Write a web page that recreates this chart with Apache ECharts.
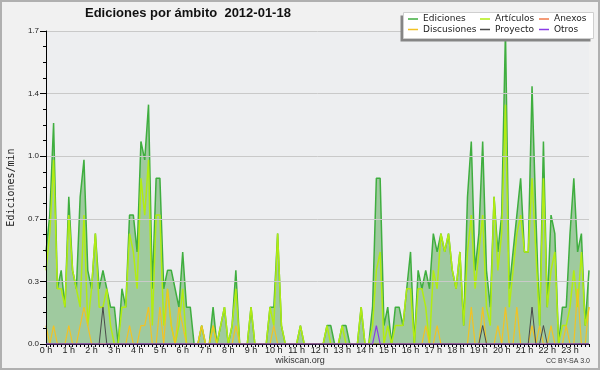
<!DOCTYPE html>
<html><head><meta charset="utf-8">
<script src="https://cdn.jsdelivr.net/npm/echarts@6/dist/echarts.min.js"></script>
<style>html,body{margin:0;padding:0;background:#f1f1f1}#c{width:600px;height:370px}</style>
</head><body><div id="c"></div>
<script>
// 10-minute slots, 0:00 .. 23:50
const categories = [];
for (let h = 0; h < 24; h++) for (let m = 0; m < 60; m += 10) categories.push(h + ':' + String(m).padStart(2, '0'));
const hourLabels = [];
for (let h = 0; h < 24; h++) hourLabels.push(h + ' h');

const ediciones = [
  0.5,0.7,1.2,0.3,0.4,0.2, 0.8,0.4,0.3,0.8,1.0,0.4,
  0.3,0.6,0.3,0.4,0.3,0.2, 0.2,0,0.3,0.2,0.7,0.7,
  0.5,1.1,1.0,1.3,0.3,0.9, 0.9,0.3,0.4,0.4,0.3,0.2,
  0.5,0.2,0.2,0,0,0.1, 0,0,0.2,0,0.1,0.2,
  0,0.1,0.4,0,0,0, 0.2,0,0,0,0,0.2,
  0.2,0.6,0.1,0,0,0, 0,0.1,0,0,0,0,
  0,0,0.1,0.1,0,0, 0.1,0.1,0,0,0,0.2,
  0,0,0.2,0.9,0.9,0.1, 0.2,0,0.2,0.2,0.1,0.3,
  0.5,0,0.4,0.3,0.4,0.3, 0.6,0.5,0.6,0.5,0.6,0.4,
  0.3,0.5,0.1,0.8,1.1,0.4, 0.6,1.1,0.4,0.2,0.8,0.5,
  0.7,1.7,0.3,0.5,0.7,0.9, 0.5,0.5,1.4,0.7,0.1,1.1,
  0.2,0.7,0.6,0,0.2,0.2, 0.6,0.9,0.5,0.6,0.1,0.4
];
const articulos = [
  0.4,0.6,1.0,0.3,0.3,0.2, 0.7,0.4,0.3,0.2,0.7,0.1,
  0.3,0.6,0.2,0.2,0.3,0.1, 0,0,0.2,0.2,0.6,0.5,
  0.3,0.9,0.7,1.0,0.1,0.7, 0.7,0.1,0.3,0.1,0,0.1,
  0.3,0,0,0,0,0.1, 0,0,0.1,0,0.1,0.2,
  0,0.1,0.3,0,0,0, 0.2,0,0,0,0,0.2,
  0.1,0.6,0.1,0,0,0, 0,0.1,0,0,0,0,
  0,0,0.1,0,0,0, 0.1,0,0,0,0,0.2,
  0,0,0.1,0.4,0.5,0, 0.1,0,0.1,0.1,0.1,0.3,
  0.3,0,0.3,0.3,0.2,0, 0.4,0.3,0.6,0.5,0.6,0.4,
  0.3,0.5,0.1,0.5,0.7,0.3, 0.5,0.7,0.2,0.1,0.8,0.4,
  0.6,1.3,0.2,0.4,0.6,0.7, 0.5,0.5,0.9,0.5,0.1,0.9,
  0.2,0.4,0.5,0,0.1,0.1, 0.2,0.4,0.2,0.5,0.1,0.2
];
const anexos = [
  0,0,0,0,0,0, 0,0,0,0,0,0,
  0,0,0,0,0,0, 0,0,0,0,0,0,
  0,0,0,0,0,0, 0,0,0,0,0,0,
  0,0,0,0,0,0, 0,0,0,0,0,0,
  0,0,0,0,0,0, 0,0,0,0,0,0,
  0,0,0,0,0,0, 0,0,0,0,0,0,
  0,0,0,0,0,0, 0,0,0,0,0,0,
  0,0,0,0,0,0, 0,0,0,0,0,0,
  0,0,0,0,0,0, 0,0,0,0,0,0,
  0,0,0,0,0,0, 0,0,0,0,0,0,
  0,0,0,0,0,0, 0,0,0,0,0,0,
  0,0,0,0,0,0, 0,0,0,0,0,0
];
const discusiones = [
  0.1,0,0.1,0,0,0, 0.1,0,0,0.1,0.2,0.1,
  0,0,0,0,0,0, 0,0,0,0,0.1,0,
  0,0.1,0.1,0.2,0,0, 0.2,0,0.3,0.1,0,0.2,
  0.1,0,0,0,0,0.1, 0,0,0.1,0,0,0,
  0,0,0.1,0,0,0, 0,0,0,0,0,0,
  0.1,0,0,0,0,0, 0,0,0,0,0,0,
  0,0,0,0,0,0, 0,0,0,0,0,0,
  0,0,0,0,0,0, 0,0,0,0,0,0,
  0,0,0,0,0.1,0, 0,0.1,0,0,0,0,
  0,0,0,0,0.2,0, 0,0.2,0,0,0,0.1,
  0,0.2,0,0,0.2,0, 0,0,0.1,0,0.1,0,
  0,0.1,0,0,0,0.1, 0,0,0.3,0,0,0.2
];
const proyecto = [
  0,0,0,0,0,0, 0,0,0,0,0,0,
  0,0,0,0.2,0,0, 0,0,0,0,0,0,
  0,0,0,0,0,0, 0,0,0,0,0,0,
  0,0,0,0,0,0, 0,0,0,0,0,0,
  0,0,0,0,0,0, 0,0,0,0,0,0,
  0,0,0,0,0,0, 0,0,0,0,0,0,
  0,0,0,0,0,0, 0,0,0,0,0,0,
  0,0,0,0,0,0, 0,0,0,0,0,0,
  0,0,0,0,0,0, 0,0,0,0,0,0,
  0,0,0,0,0,0, 0,0.1,0,0,0,0,
  0,0,0,0,0,0, 0,0,0.2,0,0,0.1,
  0,0,0,0,0,0, 0,0,0,0,0,0
];
const otros = [
  0,0,0,0,0,0, 0,0,0,0,0,0,
  0,0,0,0,0,0, 0,0,0,0,0,0,
  0,0,0,0,0,0, 0,0,0,0,0,0,
  0,0,0,0,0,0, 0,0,0,0,0,0,
  0,0,0,0,0,0, 0,0,0,0,0,0,
  0,0,0,0,0,0, 0,0,0,0,0,0,
  0,0,0,0,0,0, 0,0,0,0,0,0,
  0,0,0,0.1,0,0, 0,0,0,0,0,0,
  0,0,0,0,0,0, 0,0,0,0,0,0,
  0,0,0,0,0,0, 0,0,0,0,0,0,
  0,0,0,0,0,0, 0,0,0,0,0,0,
  0,0,0,0,0,0, 0,0,0,0,0,0
];

const chart = echarts.init(document.getElementById('c'), null, {renderer: 'canvas'});
const sans = 'Liberation Sans';
const legendText = {fontFamily: 'DejaVu Sans', fontSize: 9, color: '#222', lineHeight: 10};
function mkLegend(left, names) {
  return {
    orient: 'vertical', left: left, top: 14, padding: 0, itemGap: 0.5,
    icon: 'rect', itemWidth: 10, itemHeight: 1.5,
    textStyle: legendText, data: names, selectedMode: false, z: 20
  };
}
function line(name, data, color, width, z) {
  return {
    name: name, type: 'line', data: data, symbol: 'none', z: z,
    lineStyle: {color: color, width: width}, itemStyle: {color: color},
    emphasis: {disabled: true}, animation: false
  };
}
const edSeries = line('Ediciones', ediciones, '#3fae3f', 1.5, 2);
edSeries.areaStyle = {color: '#9fca9f', opacity: 1};

chart.setOption({
  backgroundColor: '#f1f1f1',
  animation: false,
  grid: {left: 46, right: 11, top: 31, bottom: 26, show: true, backgroundColor: '#edeef0', borderWidth: 0,
    containLabel: false, outerBoundsMode: 'none'},
  xAxis: {
    type: 'category', data: categories, boundaryGap: false, z: 5,
    axisLine: {lineStyle: {color: '#000', width: 1}},
    axisTick: {interval: 0, length: 3, lineStyle: {color: '#000'}},
    axisLabel: {interval: 5, margin: 2, fontFamily: sans, fontSize: 9, color: '#222',
      hideOverlap: false,
      formatter: function (v, idx) { return idx % 6 === 0 ? hourLabels[idx / 6] : ''; }},
    splitLine: {show: false}
  },
  yAxis: {
    type: 'value', min: 0, max: 1.7, interval: 0.34, z: 5,
    name: 'Ediciones/min', nameLocation: 'middle', nameGap: 30, nameRotate: 90,
    nameTextStyle: {fontFamily: 'DejaVu Sans Mono', fontSize: 10, color: '#222'},
    axisLine: {show: true, lineStyle: {color: '#000', width: 1}},
    axisTick: {show: true, length: 6, lineStyle: {color: '#000'}},
    minorTick: {show: true, splitNumber: 4, length: 3, lineStyle: {color: '#000'}},
    axisLabel: {margin: 7, fontFamily: sans, fontSize: 8, color: '#222',
      formatter: function (v) { return v.toFixed(1); }},
    splitLine: {show: true, lineStyle: {color: '#c9c9c9', width: 1}}
  },
  legend: [
    mkLegend(408, ['Ediciones', 'Discusiones']),
    mkLegend(480, ['Artículos', 'Proyecto']),
    mkLegend(539, ['Anexos', 'Otros'])
  ],
  series: [
    edSeries,
    line('Artículos', articulos, '#b2ec12', 1.5, 3),
    line('Anexos', anexos, '#f07a4a', 1, 3),
    line('Discusiones', discusiones, '#f2c224', 1.2, 4),
    line('Proyecto', proyecto, '#4a4a4a', 1, 5),
    line('Otros', otros, '#8a3ce6', 1.2, 6)
  ],
  graphic: [
    {type: 'rect', z: 15, shape: {x: 1, y: 1, width: 598, height: 368},
      style: {fill: 'none', stroke: '#b0b0b0', lineWidth: 2}},
    {type: 'rect', z: 15, shape: {x: 400.5, y: 15.5, width: 190, height: 26},
      style: {fill: '#858585'}},
    {type: 'rect', z: 16, shape: {x: 403.5, y: 12.5, width: 190, height: 26},
      style: {fill: '#ffffff', stroke: '#cfcfcf', lineWidth: 1}},
    {type: 'text', z: 15, left: 85, top: 7,
      style: {text: 'Ediciones por ámbito  2012-01-18', font: 'bold 13px "Liberation Sans"', fill: '#111'}},
    {type: 'text', z: 15, left: 'center', top: 356,
      style: {text: 'wikiscan.org', font: '9px "Liberation Sans"', fill: '#333'}},
    {type: 'text', z: 15, right: 10, top: 358,
      style: {text: 'CC BY-SA 3.0', font: '7px "Liberation Sans"', fill: '#333'}}
  ]
});
</script></body></html>
